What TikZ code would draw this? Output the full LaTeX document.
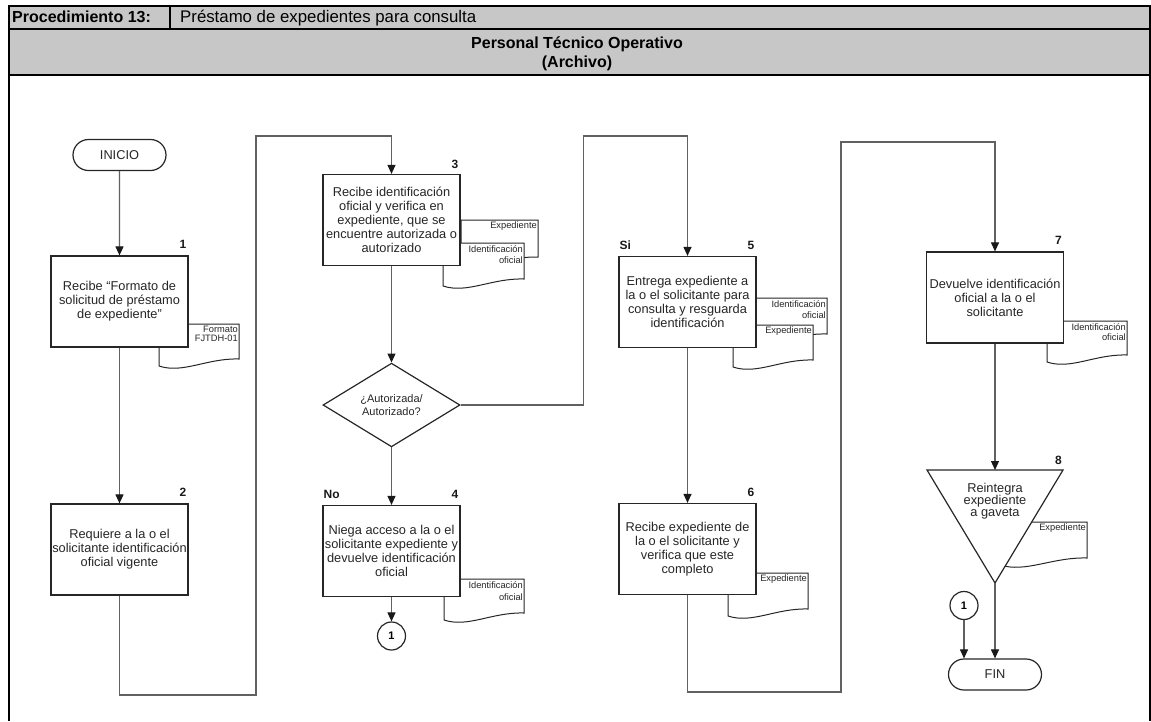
\documentclass[tikz,border=0pt]{standalone}
\usepackage{fontspec}
\setmainfont{Liberation Sans}
\usetikzlibrary{arrows.meta,shapes.geometric,shapes.misc}

\newcommand{\fsz}[2]{\fontsize{#1}{#2}\selectfont}

% Document symbol: name, left x, top y, right x, bottom y of right edge, text, line skip
\newcommand{\docsym}[7]{%
  \pgfmathsetmacro{\dsW}{#4-#2}%
  \pgfmathsetmacro{\dsCa}{#2+0.3*\dsW}%
  \pgfmathsetmacro{\dsCb}{#2+0.6*\dsW}%
  \pgfmathsetmacro{\dsYl}{#5+7}%
  \pgfmathsetmacro{\dsYa}{#5+15}%
  \pgfmathsetmacro{\dsYb}{#5-1}%
  \draw[docline] (#4,#5) -- (#4,#3) -- (#2,#3) -- (#2,\dsYl)
    .. controls (\dsCa,\dsYa) and (\dsCb,\dsYb) .. (#4,#5) -- cycle;
  \node[doctxt, font=\fsz{9.3}{#7}] (#1) at (#4-1,#3+2) {#6};%
}

\begin{document}
\begin{tikzpicture}[x=1pt,y=-1pt,
  frame/.style={draw=black, line width=1.3pt},
  proc/.style={draw=black!85, line width=1.2pt, fill=white, minimum width=137pt,
    minimum height=91pt, inner sep=0pt, align=center, text=black!85, font=\fsz{12.8}{14}},
  term/.style={rounded rectangle, draw=black!85, line width=1.2pt, fill=white,
    minimum width=93pt, minimum height=31pt, inner sep=0pt, text=black!85, font=\fsz{12.8}{14}},
  decision/.style={diamond, draw=black!85, line width=1.2pt, fill=white, minimum width=137pt,
    minimum height=69pt, inner sep=0pt, align=center, text=black!85, font=\fsz{11}{13.3}},
  conn/.style={circle, draw=black!85, line width=1.2pt, fill=white, minimum size=28pt,
    inner sep=0pt, font=\bfseries\fsz{11}{13}},
  flow/.style={draw=black!62, line width=1.1pt,
    -{Triangle[length=9pt,width=8pt,color=black!90]}},
  stepnum/.style={font=\bfseries\fsz{12}{14}, anchor=base east, inner sep=0pt, text=black!90},
  branch/.style={font=\bfseries\fsz{12}{14}, anchor=base west, inner sep=0pt, text=black!90},
  doctxt/.style={align=right, anchor=north east, inner sep=0pt, text=black!85},
  docline/.style={draw=black!85, line width=1pt, fill=white},
]
\useasboundingbox (0,0) rectangle (1151,721);

% header
\fill[black!22] (9,6) rectangle (1150,75);
\draw[frame] (9,721) -- (9,6) -- (1150,6) -- (1150,721);
\draw[frame] (9,29) -- (1150,29);
\draw[frame] (9,75) -- (1150,75);
\draw[frame] (170,6) -- (170,29);
\node[anchor=base west, inner sep=0pt, font=\bfseries\fsz{16}{18}] (procno) at (12,22.5) {Procedimiento 13:};
\node[anchor=base west, inner sep=0pt, font=\fsz{16.8}{18}] (proctitle) at (180,22.5) {Préstamo de expedientes para consulta};
\node[anchor=base, inner sep=0pt, font=\bfseries\fsz{16}{18}] (area) at (577,48.5) {Personal Técnico Operativo};
\node[anchor=base, inner sep=0pt, font=\bfseries\fsz{16}{18}] (areasub) at (577,67.5) {(Archivo)};

% documents attached to the steps
\docsym{d1}{159}{324}{239}{359}{Formato\\FJTDH-01}{8.5}
\docsym{d3a}{461}{220}{538}{257}{Expediente}{11}
\docsym{d3b}{443}{243}{524}{279}{Identificación\\oficial}{11.5}
\docsym{d4}{444}{579}{524}{613}{Identificación\\oficial}{12}
\docsym{d5a}{740}{298}{827}{334}{Identificación\\oficial}{11.5}
\docsym{d5b}{733}{325}{813}{360}{Expediente}{11}
\docsym{d6}{728}{573}{808}{609}{Expediente}{11}
\docsym{d7}{1047}{321}{1127}{355}{Identificación\\oficial}{10.5}
\docsym{d8}{1000}{522}{1087}{558}{Expediente}{11}

% steps
\node[term] (ini) at (119.5,155) {INICIO};
\node[proc] (b1) at (119.5,301.5) {Recibe “Formato de\\solicitud de préstamo\\de expediente”};
\node[proc] (b2) at (119.5,549.5) {Requiere a la o el\\solicitante identificación\\oficial vigente};
\node[proc] (b3) at (391.5,220) {Recibe identificación\\oficial y verifica en\\expediente, que se\\encuentre autorizada o\\autorizado};
\node[decision] (dec) at (391.5,405) {¿Autorizada/\\Autorizado?};
\node[proc] (b4) at (391.5,551) {Niega acceso a la o el\\solicitante expediente y\\devuelve identificación\\oficial};
\node[conn] (c1a) at (391.5,636) {1};
\node[proc] (b5) at (687.5,302) {Entrega expediente a\\la o el solicitante para\\consulta y resguarda\\identificación};
\node[proc] (b6) at (687.5,549) {Recibe expediente de\\la o el solicitante y\\verifica que este\\completo};
\node[proc] (b7) at (995,297.5) {Devuelve identificación\\oficial a la o el\\solicitante};

% step 8: storage triangle
\draw[draw=black!85, line width=1.2pt, fill=white] (927,470) -- (1063,470) -- (995,583) -- cycle;
\coordinate (t8top) at (995,470);
\coordinate (t8bot) at (995,583);
\node[align=center, inner sep=0pt, text=black!85, font=\fsz{12.8}{12}] (t8txt) at (995,501) {Reintegra\\expediente\\a gaveta};

\node[conn] (c1b) at (964,605.5) {1};
\node[term] (fin) at (995,674.5) {FIN};

% step numbers and branch labels
\node[stepnum] (n1) at ([xshift=-2pt,yshift=6.5pt]b1.north east) {1};
\node[stepnum] (n2) at ([xshift=-2pt,yshift=6.5pt]b2.north east) {2};
\node[stepnum] (n3) at ([xshift=-2pt,yshift=5.5pt]b3.north east) {3};
\node[stepnum] (n4) at ([xshift=-2pt,yshift=6.5pt]b4.north east) {4};
\node[stepnum] (n5) at ([xshift=-2pt,yshift=6.5pt]b5.north east) {5};
\node[stepnum] (n6) at ([xshift=-2pt,yshift=6.5pt]b6.north east) {6};
\node[stepnum] (n7) at ([xshift=-2pt,yshift=6.5pt]b7.north east) {7};
\node[stepnum] (n8) at (1062,464) {8};
\node[branch] (lno) at ([xshift=1pt,yshift=6.5pt]b4.north west) {No};
\node[branch] (lsi) at ([xshift=1pt,yshift=6.5pt]b5.north west) {Si};

% routing points
\coordinate (j1) at (256,695);
\coordinate (j2) at (256,136);
\coordinate (j3) at (583.5,136);
\coordinate (j4) at (841,692);
\coordinate (j5) at (841,142);

% connectors
\draw[flow] (ini) -- (b1);
\draw[flow] (b1) -- (b2);
\draw[flow] (b2.south) |- (j1) -- (j2) -| (b3.north);
\draw[flow] (b3) -- (dec);
\draw[flow] (dec.east) -| (j3) -| (b5.north);
\draw[flow] (dec.south) -- (b4.north);
\draw[flow] (b4.south) -- (c1a.north);
\draw[flow] (b5) -- (b6);
\draw[flow] (b6.south) |- (j4) -- (j5) -| (b7.north);
\draw[flow] (b7.south) -- (t8top);
\draw[flow] (t8bot) -- (fin.north);
\draw[flow] (c1b.south) -- (c1b.south |- fin.north);
\end{tikzpicture}
\end{document}
